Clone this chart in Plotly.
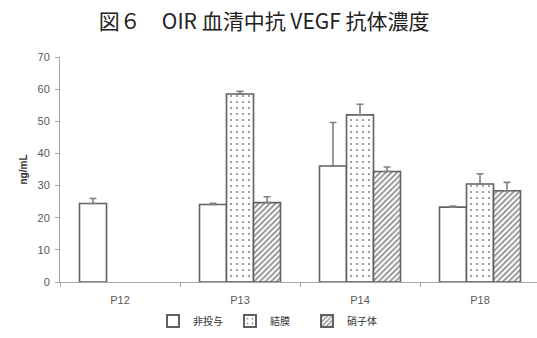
import plotly.graph_objects as go

# Serum anti-VEGF antibody concentration by day and route
days = ["P12", "P13", "P14", "P18"]
series_names = ["非投与", "結膜", "硝子体"]
non_dosed = [24.4, 24.1, 36.1, 23.3]
non_dosed_err = [1.6, 0.4, 13.5, 0.3]
conjunctiva = [None, 58.5, 52.0, 30.5]
conjunctiva_err = [0, 0.8, 3.3, 3.2]
vitreous = [None, 24.7, 34.4, 28.4]
vitreous_err = [0, 1.8, 1.4, 2.6]
y_ticks = [0, 10, 20, 30, 40, 50, 60, 70]

outline = "#606060"
err_color = "#808080"


def err(arr):
    return dict(type="data", symmetric=False, array=arr, arrayminus=[0] * len(arr),
                color=err_color, thickness=1.6, width=3.5)


fig = go.Figure()
fig.add_trace(go.Bar(
    x=days, y=non_dosed, name=series_names[0], error_y=err(non_dosed_err),
    marker=dict(color="white", line=dict(color=outline, width=1.6)),
))
fig.add_trace(go.Bar(
    x=days, y=conjunctiva, name=series_names[1], error_y=err(conjunctiva_err),
    marker=dict(color="white", line=dict(color=outline, width=1.6),
                pattern=dict(shape=".", fgcolor="#111111", bgcolor="white",
                             size=6, solidity=0.1)),
))
fig.add_trace(go.Bar(
    x=days, y=vitreous, name=series_names[2], error_y=err(vitreous_err),
    marker=dict(color="white", line=dict(color=outline, width=1.6),
                pattern=dict(shape="/", fgcolor="#1a1a1a", bgcolor="white",
                             size=4, solidity=0.45)),
))

fig.update_layout(
    width=537, height=338,
    margin=dict(l=60, r=0, t=57, b=56, autoexpand=False),
    paper_bgcolor="white", plot_bgcolor="white",
    barmode="group", bargap=0.325, bargroupgap=0,
    font=dict(family="Noto Sans CJK JP, Liberation Sans, sans-serif", size=10, color="#595959"),
    title=dict(text="図６\u3000OIR 血清中抗 VEGF 抗体濃度", x=0.492, xref="container",
               xanchor="center", y=0.935, yref="container", yanchor="middle",
               font=dict(family="Noto Sans CJK JP, Liberation Serif, serif", size=21, color="#222222")),
    showlegend=True,
    legend=dict(orientation="h", x=0.5, xanchor="center", xref="container",
                y=0.05, yref="container", yanchor="middle", traceorder="normal",
                font=dict(size=10, color="#333333", family="Noto Sans CJK JP, sans-serif"),
                itemwidth=30, entrywidth=32, entrywidthmode="pixels", tracegroupgap=0,
                itemsizing="constant", bgcolor="rgba(0,0,0,0)"),
    xaxis=dict(type="category", showline=True, linecolor="#a6a6a6", linewidth=1,
               ticks="outside", tickson="boundaries", ticklen=4, tickcolor="#a6a6a6",
               range=[-0.5, 3.475], showgrid=False, zeroline=False, automargin=False,
               ticklabelstandoff=8,
               tickfont=dict(size=11, color="#595959", family="Liberation Sans, sans-serif")),
    yaxis=dict(range=[0, 70], tickvals=y_ticks, showline=True, linecolor="#a6a6a6",
               linewidth=1, ticks="outside", ticklen=4, tickcolor="#a6a6a6",
               showgrid=False, zeroline=False, automargin=False, ticklabelstandoff=3,
               tickfont=dict(size=11, color="#595959", family="Liberation Sans, sans-serif"),
               title=dict(text="<b>ng/mL</b>", standoff=8,
                          font=dict(size=10, color="#333333", family="Liberation Sans, sans-serif"))),
)

fig.write_html("out.html")
